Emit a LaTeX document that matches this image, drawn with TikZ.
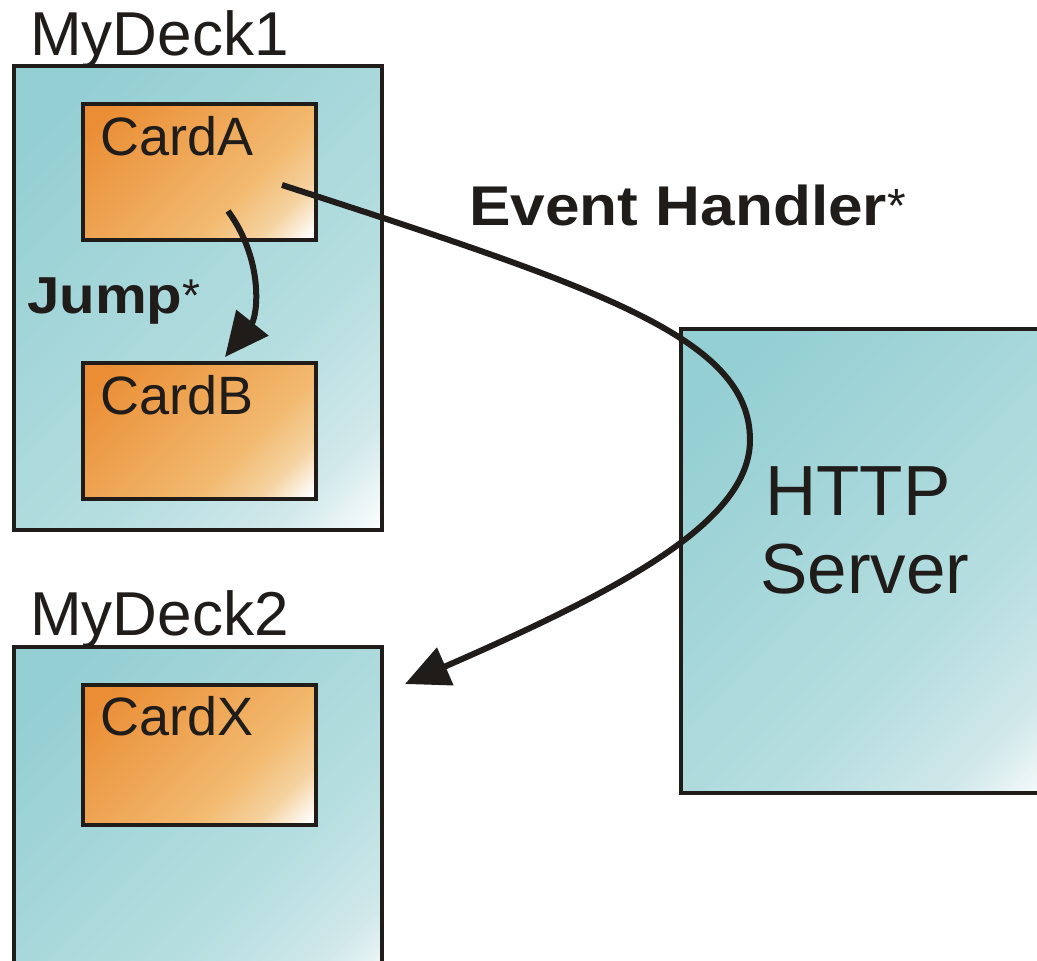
\documentclass[tikz,border=0pt]{standalone}
\usepackage{fontspec}
\setmainfont{Liberation Sans}
\usetikzlibrary{arrows.meta}
\definecolor{tealA}{RGB}{148,207,211}
\definecolor{tealB}{RGB}{182,222,224}
\definecolor{tealC}{RGB}{208,232,234}
\definecolor{orangeA}{RGB}{234,141,52}
\definecolor{orangeB}{RGB}{242,186,112}
\definecolor{orangeC}{RGB}{245,210,160}
\definecolor{ink}{RGB}{32,28,26}
\pgfdeclarehorizontalshading{deckshade}{100bp}{color(0bp)=(tealA); color(22bp)=(tealA); color(62bp)=(tealB); color(76bp)=(tealC); color(86bp)=(white); color(100bp)=(white)}
\pgfdeclarehorizontalshading{cardshade}{100bp}{color(0bp)=(orangeA); color(20bp)=(orangeA); color(62bp)=(orangeB); color(74bp)=(orangeC); color(84bp)=(white); color(100bp)=(white)}
\tikzset{
  deckbox/.style={draw=ink, line width=4.5pt, shading=deckshade, shading angle=-45},
  cardbox/.style={draw=ink, line width=4.5pt, shading=cardshade, shading angle=-45},
  decklabel/.style={anchor=base west, inner sep=0pt, text=ink, font=\fontsize{62}{62}\selectfont},
  cardlabel/.style={anchor=base west, inner sep=0pt, text=ink, font=\fontsize{54}{54}\selectfont},
  serverlabel/.style={anchor=base west, inner sep=0pt, text=ink, font=\fontsize{71}{71}\selectfont},
  boldlabel/.style={anchor=base west, inner sep=0pt, text=ink},
  arrowline/.style={draw=ink, line width=6pt, -{Triangle[length=44pt, width=40pt]}}
}
\begin{document}
\begin{tikzpicture}[x=1pt, y=-1pt]
\useasboundingbox (0,0) rectangle (1037,961);
\clip (0,0) rectangle (1037,961);
% decks
\path[deckbox] (14,66) rectangle (382,530);
\node (deck1) at (198,298) {};
\path[deckbox] (14,647) rectangle (382,1000);
\node (deck2) at (198,800) {};
\path[deckbox] (681,329) rectangle (1060,793);
\node (server) at (860,560) {};
% cards
\path[cardbox] (83,104) rectangle (316,240);
\path[cardbox] (83,363) rectangle (316,499);
\path[cardbox] (83,685) rectangle (316,825);
% labels
\node[decklabel] (l1) at (30,55) {MyDeck1};
\node[decklabel] (l2) at (30,635) {MyDeck2};
\node[cardlabel] (ca) at (100,155) {CardA};
\node[cardlabel] (cb) at (100,414) {CardB};
\node[cardlabel] (cx) at (100,735) {CardX};
\node[serverlabel] (s1) at (765,515) {HTTP};
\node[serverlabel] (s2) at (760,593) {Server};
\node[boldlabel] (jump) at (27,313) {\scalebox{1.12}[1]{\fontsize{52}{52}\selectfont\bfseries Jump}\fontsize{46}{46}\selectfont\raisebox{2pt}{*}};
\node[boldlabel] (eh) at (469,225) {\scalebox{1.11}[1]{\fontsize{56}{56}\selectfont\bfseries Event Handler}\fontsize{48}{48}\selectfont\raisebox{3pt}{*}};
% connectors
\coordinate (jStart) at (228,211);
\coordinate (jEnd) at (225,357);
\coordinate (ehStart) at (282,185);
\coordinate (ehTurn) at (750,440);
\coordinate (ehEnd) at (405,684);
\draw[arrowline] (jStart) .. controls (265,262) and (257,317) .. (jEnd);
\draw[arrowline] (ehStart) .. controls (600,288) and (750,338) .. (ehTurn) .. controls (750,522) and (620,590) .. (ehEnd);
\end{tikzpicture}
\end{document}
